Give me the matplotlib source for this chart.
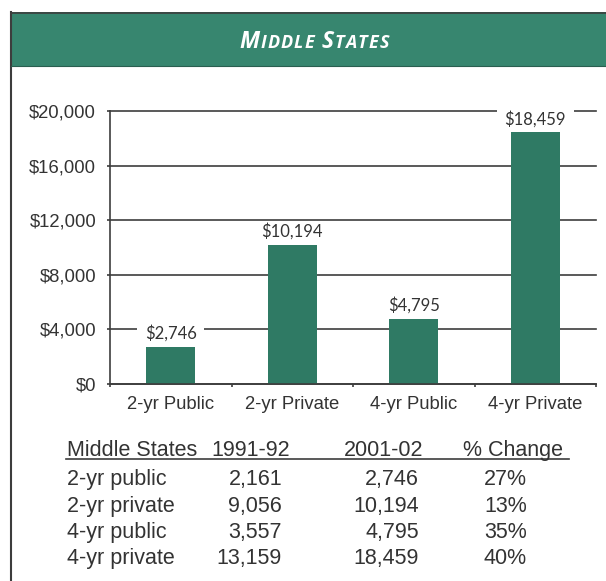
import matplotlib.pyplot as plt
from matplotlib.patches import Rectangle
from matplotlib.lines import Line2D
from matplotlib.path import Path

# bar chart data (2001-02 tuition)
categories = ['2-yr Public', '2-yr Private', '4-yr Public', '4-yr Private']
tuition_2002 = [2746, 10194, 4795, 18459]
yticks = [0, 4000, 8000, 12000, 16000, 20000]

# table data
table_header = ['Middle States', '1991-92', '2001-02', '% Change']
row_names = ['2-yr public', '2-yr private', '4-yr public', '4-yr private']
tuition_1992 = [2161, 9056, 3557, 13159]
pct_change = [27, 13, 35, 40]

title = 'Middle States'

W, H = 606, 581
bar_color = '#2f7a64'
banner_color = '#37866f'
line_color = '#3d3d3d'
text_color = '#333333'

def fx(px):
    return px / W

def fy(py):
    return 1 - py / H

# white box that is wide but flat, so labels only cut the gridline sideways
def flat_box(x0, y0, width, height, mutation_size):
    padx = 0.45 * mutation_size
    top = 0.12 * mutation_size
    x1, y1 = x0 - padx, y0
    x2, y2 = x0 + width + padx, y0 + height + top
    return Path([(x1, y1), (x2, y1), (x2, y2), (x1, y2), (x1, y1)], closed=True)

fig = plt.figure(figsize=(W / 100, H / 100), dpi=100)
fig.patch.set_facecolor('white')

# frame + banner
fig.patches.append(Rectangle((fx(11), fy(66)), fx(W) - fx(11), fy(12) - fy(66),
                             transform=fig.transFigure, facecolor=banner_color,
                             edgecolor='none', zorder=0))
fig.lines.append(Line2D([fx(11), fx(11)], [fy(12), fy(H)], transform=fig.transFigure,
                        color=line_color, lw=1.5))
fig.lines.append(Line2D([fx(11), fx(W)], [fy(12.5), fy(12.5)], transform=fig.transFigure,
                        color=line_color, lw=1.2))
fig.lines.append(Line2D([fx(11), fx(W)], [fy(66), fy(66)], transform=fig.transFigure,
                        color='#2a5f50', lw=0.8))

# small-caps title, letter by letter
renderer = fig.canvas.get_renderer()
tracking = 1.2
space = 6
texts = []
widths = []
for word_i, word in enumerate(title.upper().split()):
    for k, ch in enumerate(word):
        size = 16.5 if k == 0 else 13
        t = fig.text(0, fy(48), ch, fontsize=size, family='Open Sans', style='italic',
                     weight='bold', color='white', va='baseline', ha='left')
        texts.append((t, word_i > 0 and k == 0))
        widths.append(t.get_window_extent(renderer).width)
total = sum(widths) + tracking * (len(widths) - 1) + space
x = 314 - total / 2
for (t, new_word), w in zip(texts, widths):
    if new_word:
        x += space
    t.set_x(fx(x))
    x += w + tracking

# bar chart
ax = fig.add_axes([fx(110), fy(384), fx(596) - fx(110), fy(111) - fy(384)])
xs = range(len(categories))
ax.bar(xs, tuition_2002, width=0.4, color=bar_color, zorder=2)
ax.set_xlim(-0.5, 3.5)
ax.set_ylim(0, 20000)
ax.set_axisbelow(True)
ax.yaxis.grid(True, color=line_color, lw=1.2)
for gl in ax.get_ygridlines():
    gl.set_clip_on(False)

for i, v in enumerate(tuition_2002):
    ax.annotate(f'${v:,}', (i, v), xytext=(0, 3.5), textcoords='offset points',
                ha='center', va='bottom', fontsize=12, family='Lato',
                color=text_color, zorder=1.5,
                bbox=dict(boxstyle=flat_box, facecolor='white', edgecolor='none'))

ax.set_yticks(yticks)
ax.set_yticklabels([f'${v:,}' for v in yticks], fontsize=13.3,
                   family='Liberation Sans', color=text_color)
ax.set_xticks(list(xs))
ax.set_xticklabels(categories, fontsize=13.3, family='Liberation Sans', color=text_color)
ax.set_xticks([-0.5, 0.5, 1.5, 2.5, 3.5], minor=True)
ax.tick_params(axis='x', which='major', length=0, pad=8.5)
ax.tick_params(axis='x', which='minor', length=2.5, width=1.2, color=line_color, direction='out')
ax.tick_params(axis='y', length=2, width=1.2, color=line_color, pad=8)
for side in ['top', 'right']:
    ax.spines[side].set_visible(False)
for side in ['left', 'bottom']:
    ax.spines[side].set_color(line_color)
    ax.spines[side].set_linewidth(1.2)

# table below
tkw = dict(fontsize=15.5, family='Liberation Sans', color=text_color, va='baseline')
col_label = 67
col_right = [282, 419, 527]
head_right = [290, 423, 563]

fig.text(fx(col_label), fy(456), table_header[0], ha='left', **tkw)
for j in range(3):
    fig.text(fx(head_right[j]), fy(456), table_header[j + 1], ha='right', **tkw)
fig.lines.append(Line2D([fx(66), fx(569)], [fy(458.5), fy(458.5)], transform=fig.transFigure,
                        color=line_color, lw=1.2))

row_y = [485, 512, 538, 564]
for i, name in enumerate(row_names):
    y = fy(row_y[i])
    fig.text(fx(col_label), y, name, ha='left', **tkw)
    fig.text(fx(col_right[0]), y, f'{tuition_1992[i]:,}', ha='right', **tkw)
    fig.text(fx(col_right[1]), y, f'{tuition_2002[i]:,}', ha='right', **tkw)
    fig.text(fx(col_right[2]), y, f'{pct_change[i]}%', ha='right', **tkw)

fig.savefig('out.png', dpi=100)
